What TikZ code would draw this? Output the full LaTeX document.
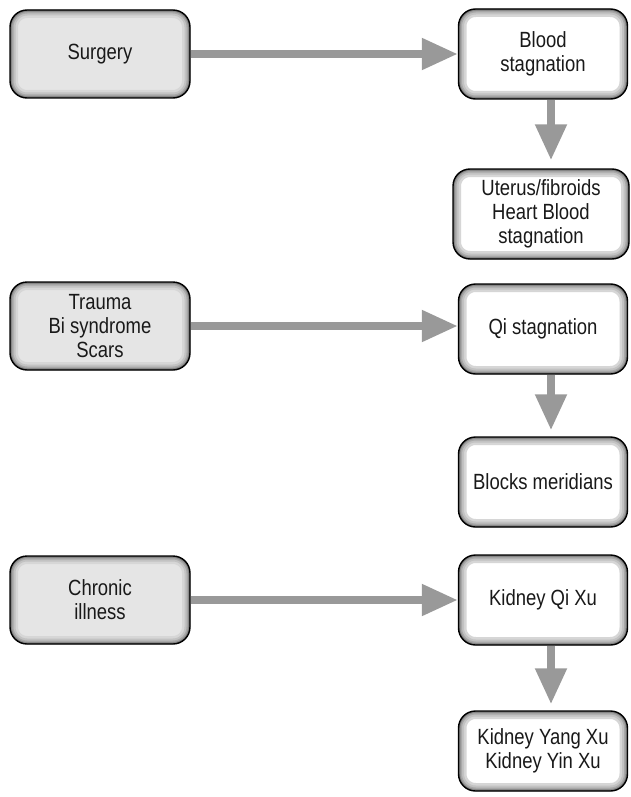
\documentclass[tikz,border=0pt]{standalone}
\usepackage{fontspec}
\setmainfont[FakeStretch=0.84]{Liberation Sans}
\usetikzlibrary{arrows.meta, positioning}

\begin{document}
\begin{tikzpicture}[
    x=1pt, y=-1pt,
    every node/.style={draw, line width=1.4pt, rounded corners=17pt, align=center,
        font=\fontsize{22}{24}\selectfont, text=black!90},
    glow/.style={path picture={
        \foreach \w/\c in {16/16,11/24,7/34,4/46,2/58}{
            \draw[line width=\w pt, black!\c, rounded corners=17pt]
                (path picture bounding box.south west) rectangle (path picture bounding box.north east);
        }}},
    cause/.style={glow, fill=black!10, minimum width=180pt, minimum height=88pt},
    effect/.style={glow, fill=white, minimum width=169pt, minimum height=90pt},
    arrow/.style={-{Triangle[length=36pt, width=30pt]}, line width=8pt, draw=black!40}
]
\useasboundingbox (0,0) rectangle (631,797);

% left column
\node[cause] (surgery) at (100,54) {Surgery};
\node[cause] (trauma) at (100,326) {Trauma\\Bi syndrome\\Scars};
\node[cause] (chronic) at (100,600) {Chronic\\illness};

% right column
\node[effect] (blood) at (543,54) {Blood\\stagnation};
\node[effect, minimum width=176pt] (uterus) at (541,214) {Uterus/fibroids\\Heart Blood\\stagnation};
\node[effect] (qi) at (543,329) {Qi stagnation};
\node[effect] (blocks) at (543,482) {Blocks meridians};
\node[effect] (kqi) at (543,600) {Kidney Qi Xu};
\node[effect, minimum height=80pt] (kyang) at (543,751) {Kidney Yang Xu\\Kidney Yin Xu};

\draw[arrow] (surgery) -- (surgery -| blood.west);
\draw[arrow] (trauma) -- (trauma -| qi.west);
\draw[arrow] (chronic) -- (chronic -| kqi.west);

\draw[arrow, shorten >=8pt] ([xshift=8pt]blood.south) -- ([xshift=8pt]blood.south |- uterus.north);
\draw[arrow, shorten >=6pt] ([xshift=8pt]qi.south) -- ([xshift=8pt]blocks.north);
\draw[arrow, shorten >=6pt] ([xshift=8pt]kqi.south) -- ([xshift=8pt]kyang.north);

\end{tikzpicture}
\end{document}
